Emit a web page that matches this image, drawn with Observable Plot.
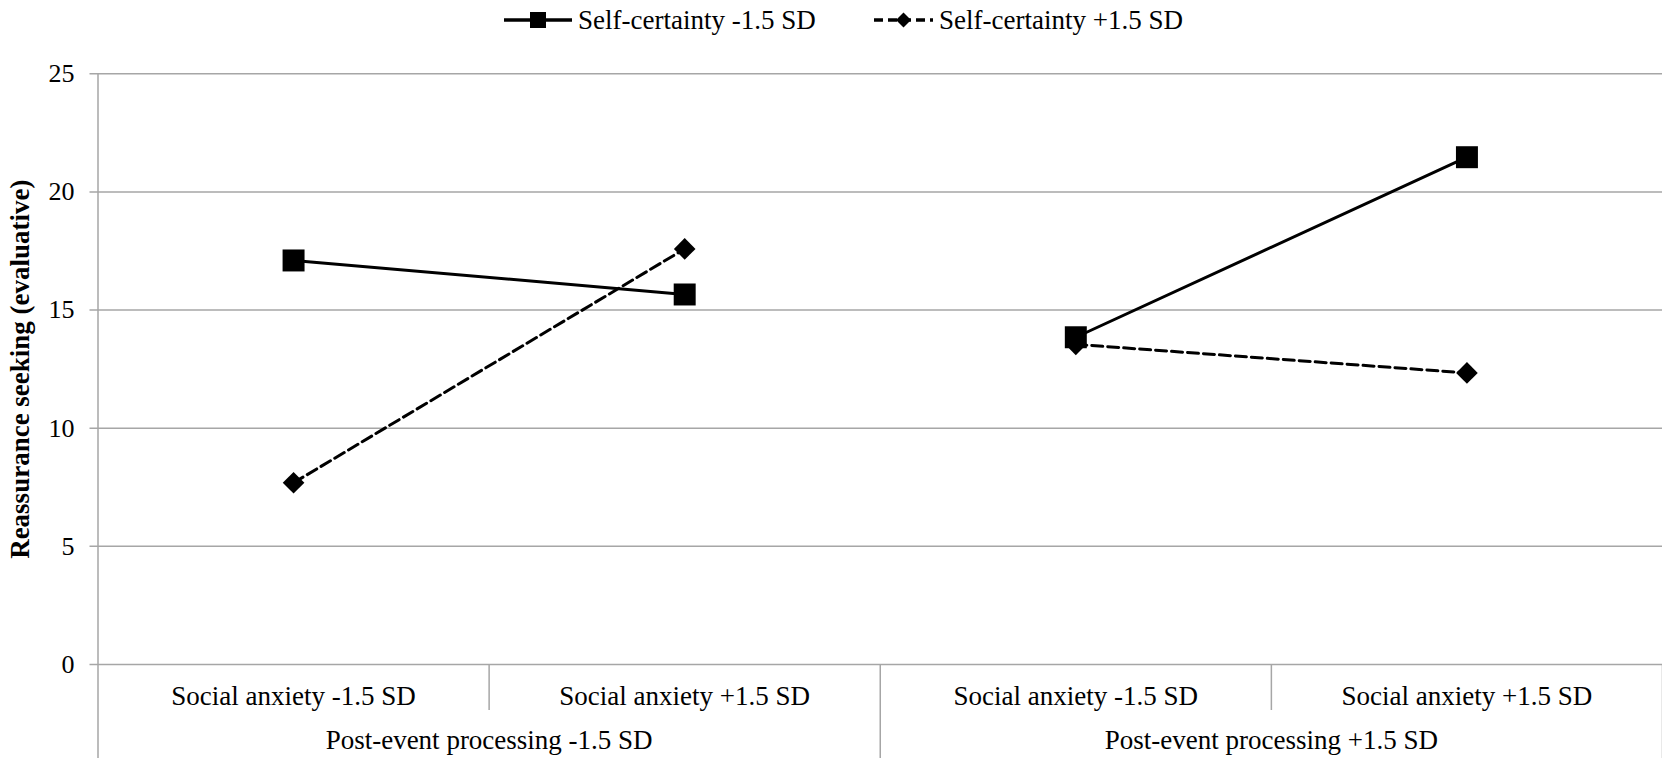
<!DOCTYPE html>
<html>
<head>
<meta charset="utf-8">
<script src="https://cdn.jsdelivr.net/npm/d3@7"></script>
<script src="https://cdn.jsdelivr.net/npm/@observablehq/plot@0.6"></script>
<style>
  body { margin: 0; background: #fff; }
  #legend { position: relative; height: 40px; font-family: "Liberation Serif", "Times New Roman", serif; font-size: 27px; color: #000; }
  .item { position: absolute; top: 0; height: 40px; display: flex; align-items: center; white-space: nowrap; }
  .item span { margin-left: 6px; }
  #chart svg { display: block; }
</style>
</head>
<body>
<div id="legend"></div>
<div id="chart"></div>
<script>
// ---- data ----
const groupLabels = ["Post-event processing -1.5 SD", "Post-event processing +1.5 SD"];
const anxietyLabels = ["Social anxiety -1.5 SD", "Social anxiety +1.5 SD"];
const seriesNames = ["Self-certainty -1.5 SD", "Self-certainty +1.5 SD"];
const lowCertainty = [17.10, 15.66, 13.85, 21.47];
const highCertainty = [7.69, 17.59, 13.55, 12.34];
const yTicks = [0, 5, 10, 15, 20, 25];
const yLabel = "Reassurance seeking (evaluative)";

// ---- derived tables ----
const perGroup = anxietyLabels.length;
const nCells = groupLabels.length * perGroup;
const rows = [];
[lowCertainty, highCertainty].forEach((vals, si) => {
  vals.forEach((v, i) => rows.push({
    series: seriesNames[si],
    group: Math.floor(i / perGroup),
    pos: i + 0.5,
    value: v
  }));
});
const cells = d3.range(nCells).map(i => ({ pos: i + 0.5, label: anxietyLabels[i % perGroup] }));
const groups = groupLabels.map((g, gi) => ({ pos: gi * perGroup + perGroup / 2, label: g }));
const innerBounds = groups.map(g => g.pos);
const groupBounds = d3.range(1, groupLabels.length + 1).map(g => g * perGroup);

const GRAY = "#a6a6a6";
const FONT = "Liberation Serif, Times New Roman, serif";
const W = 1662, H = 718, MT = 33.3, MB = 94, ML = 97.5;
const frameH = H - MT - MB;
const s0 = rows.filter(d => d.series === seriesNames[0]);
const s1 = rows.filter(d => d.series === seriesNames[1]);

const chart = Plot.plot({
  width: W,
  height: H,
  marginLeft: ML,
  marginRight: 0,
  marginTop: MT,
  marginBottom: MB,
  x: { type: "linear", domain: [0, nCells], axis: null },
  y: { domain: [0, 25], axis: null },
  style: { fontFamily: FONT, fontSize: "27px", color: "black", background: "white", overflow: "visible" },
  marks: [
    // gridlines, extended left to form the y ticks
    Plot.ruleY(yTicks, { y: d => d, stroke: GRAY, strokeWidth: 1.5, insetLeft: -8 }),
    // left axis line continuing through the category table
    Plot.ruleX([0], { x: d => d, stroke: GRAY, strokeWidth: 1.5, insetBottom: -MB }),
    // separators inside each group
    Plot.ruleX(innerBounds, { x: d => d, stroke: GRAY, strokeWidth: 1.5, insetTop: frameH, insetBottom: -46 }),
    // separators between groups
    Plot.ruleX(groupBounds, { x: d => d, stroke: GRAY, strokeWidth: 1.5, insetTop: frameH, insetBottom: -MB }),
    // y tick labels
    Plot.text(yTicks, { y: d => d, text: d => String(d), frameAnchor: "left", dx: -23.5, textAnchor: "end", fontSize: 26, fill: "black" }),
    // category labels
    Plot.text(cells, { x: "pos", text: "label", frameAnchor: "bottom", dy: 40, fontSize: 27, fill: "black" }),
    Plot.text(groups, { x: "pos", text: "label", frameAnchor: "bottom", dy: 84.5, fontSize: 27, fill: "black" }),
    // y axis title
    Plot.text([yLabel], { text: d => d, frameAnchor: "left", dx: -78, rotate: -90, textAnchor: "middle", fontWeight: "bold", fontSize: 27, fill: "black" }),
    // series
    Plot.line(s1, { x: "pos", y: "value", z: "group", stroke: "black", strokeWidth: 3, strokeDasharray: "11,5" }),
    Plot.line(s0, { x: "pos", y: "value", z: "group", stroke: "black", strokeWidth: 3 }),
    Plot.dot(s1, { x: "pos", y: "value", symbol: d3.symbolDiamond2, r: 9.75, fill: "black" }),
    Plot.dot(s0, { x: "pos", y: "value", symbol: d3.symbolSquare, r: 12.4, fill: "black" })
  ]
});
document.getElementById("chart").appendChild(chart);

// ---- legend ----
const legend = document.getElementById("legend");
const legendItems = [
  { name: seriesNames[0], left: 504, w: 68, dash: null, sym: "square" },
  { name: seriesNames[1], left: 874, w: 59, dash: "9,5", sym: "diamond" }
];
legendItems.forEach(it => {
  const div = document.createElement("div");
  div.className = "item";
  div.style.left = it.left + "px";
  const c = it.w / 2;
  const symbol = it.sym === "square"
    ? `<rect x="${c - 8}" y="12" width="16" height="16" fill="black"/>`
    : `<path d="M${c},12.5L${c + 7.5},20L${c},27.5L${c - 7.5},20Z" fill="black"/>`;
  div.innerHTML = `<svg width="${it.w}" height="40"><line x1="0" x2="${it.w}" y1="20" y2="20" stroke="black" stroke-width="3.5" ${it.dash ? `stroke-dasharray="${it.dash}"` : ""}/>${symbol}</svg><span>${it.name}</span>`;
  legend.appendChild(div);
});
</script>
</body>
</html>
